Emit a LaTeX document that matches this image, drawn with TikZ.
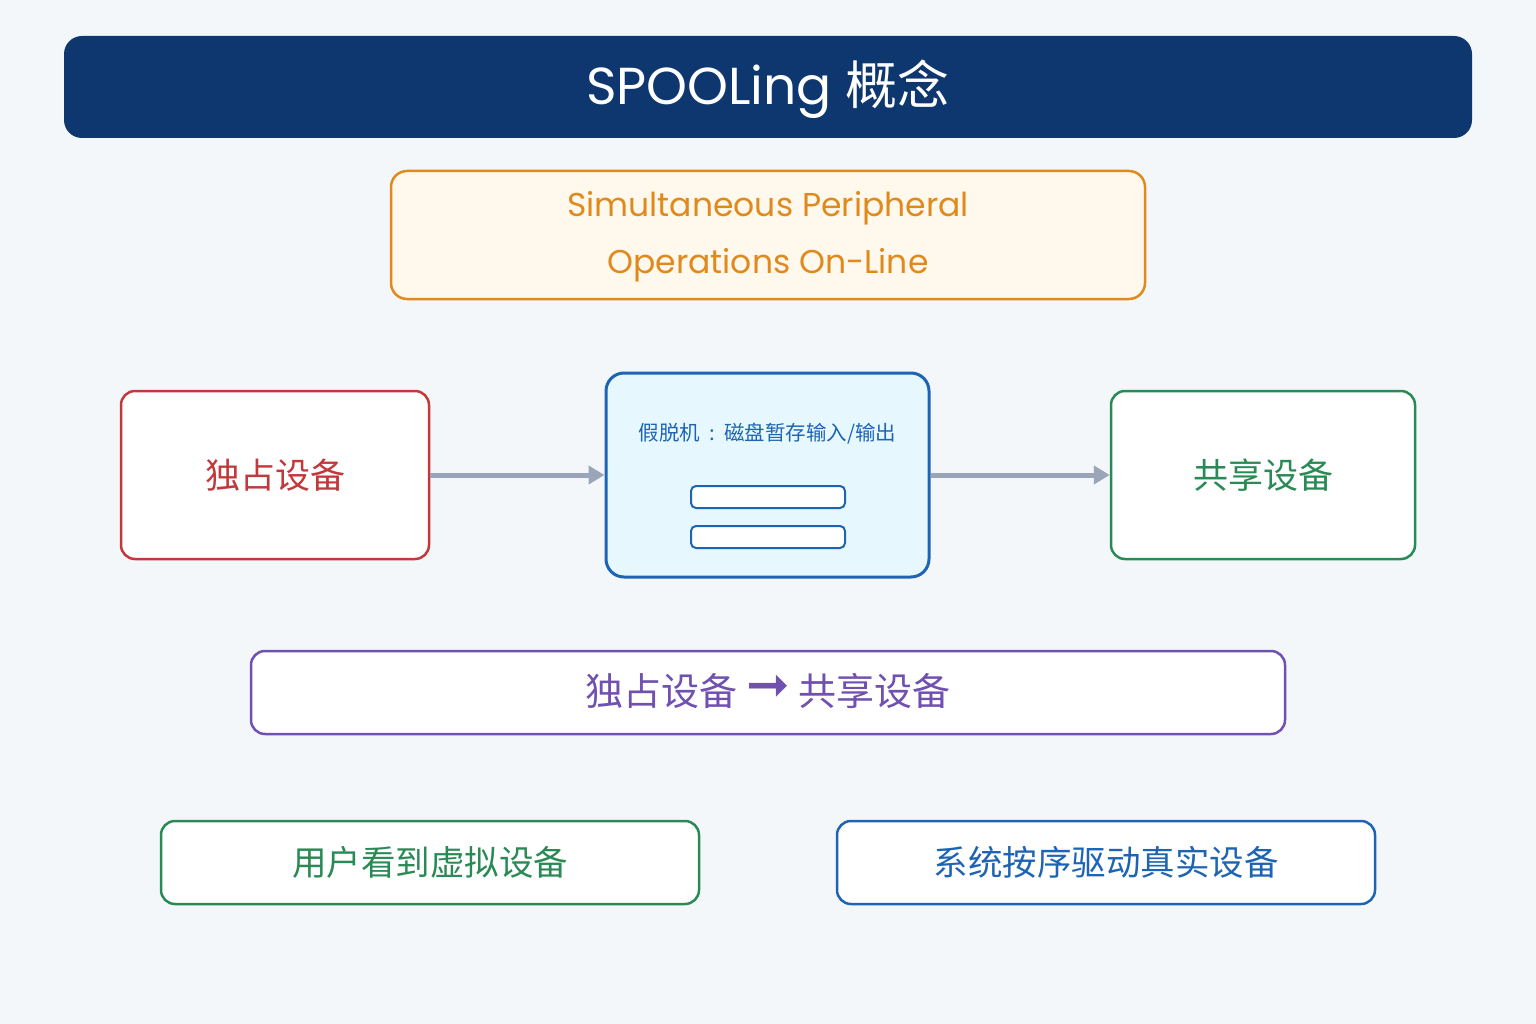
\documentclass[tikz,border=0pt]{standalone}
\usepackage{fontspec}
\setmainfont{Poppins}
\newfontfamily\cjk{Noto Sans CJK SC}
\newfontfamily\lat{Poppins}
\newfontfamily\sym{DejaVu Sans}
\usetikzlibrary{arrows.meta}
\definecolor{bg}{HTML}{F3F7FA}
\definecolor{navy}{HTML}{0D376E}
\definecolor{orng}{HTML}{E08A1E}
\definecolor{orfill}{HTML}{FFF8EC}
\definecolor{redc}{HTML}{C0393B}
\definecolor{bluec}{HTML}{1E64B4}
\definecolor{cyanfill}{HTML}{E6F8FD}
\definecolor{greenc}{HTML}{2A8A55}
\definecolor{purp}{HTML}{7050B0}
\definecolor{arrowgray}{HTML}{9AA5B8}
\begin{document}
\begin{tikzpicture}[x=1pt,y=-1pt,
  box/.style={rounded corners=14pt, line width=2.5pt, fill=white},
  conn/.style={draw=arrowgray, line width=5pt, -{Triangle[length=16pt,width=18pt]}}]
\useasboundingbox[fill=bg] (0,0) rectangle (1536,1024);
% title
\node[fill=navy, rounded corners=18pt, minimum width=1408pt, minimum height=102pt, inner sep=0pt] (title) at (768,87) {};
\node[text=white, font=\fontsize{52}{60}\selectfont] (titletext) at (768,89) {\lat SPOOLing \cjk 概念};
% orange
\node[box, draw=orng, fill=orfill, rounded corners=16pt, minimum width=754pt, minimum height=128pt, inner sep=0pt] (full) at (768,235) {};
\node[text=orng, font=\fontsize{33}{57}\selectfont, align=center] (fulltext) at (768,237) {Simultaneous Peripheral\\Operations On-Line};
% red
\node[box, draw=redc, minimum width=308pt, minimum height=168pt, inner sep=0pt] (excl) at (275,475) {};
\node[text=redc, font=\cjk\fontsize{35}{40}\selectfont] (excltext) at (275,475) {独占设备};
% center
\node[box, draw=bluec, fill=cyanfill, line width=3pt, rounded corners=18pt, minimum width=323pt, minimum height=204pt, inner sep=0pt] (spool) at (767.5,475) {};
\node[text=bluec, font=\cjk\fontsize{20.5}{24}\selectfont] (spooltext) at (767.5,434) {假脱机\makebox[24pt]{:}磁盘暂存输入/输出};
\node[draw=bluec, fill=white, line width=2pt, rounded corners=5pt, minimum width=154pt, minimum height=22pt, inner sep=0pt] (bar1) at (768,497) {};
\node[draw=bluec, fill=white, line width=2pt, rounded corners=5pt, minimum width=154pt, minimum height=22pt, inner sep=0pt] (bar2) at (768,537) {};
% green
\node[box, draw=greenc, minimum width=304pt, minimum height=168pt, inner sep=0pt] (shared) at (1263,475) {};
\node[text=greenc, font=\cjk\fontsize{35}{40}\selectfont] (sharedtext) at (1263,475) {共享设备};
% arrows
\draw[conn] (excl.east) -- (spool.west);
\draw[conn] (spool.east) -- (shared.west);
% purple
\node[box, draw=purp, minimum width=1034pt, minimum height=83pt, inner sep=0pt] (conv) at (768,692.5) {};
\node[text=purp, font=\cjk\fontsize{38}{44}\selectfont] (convtext) at (768,691) {独占设备 \raisebox{3pt}{\sym\fontsize{52}{56}\selectfont ➞} 共享设备};
% bottom
\node[box, draw=greenc, minimum width=538pt, minimum height=83pt, inner sep=0pt] (user) at (430,862.5) {};
\node[text=greenc, font=\cjk\fontsize{34.5}{40}\selectfont] (usertext) at (430,862) {用户看到虚拟设备};
\node[box, draw=bluec, minimum width=538pt, minimum height=83pt, inner sep=0pt] (sys) at (1106,862.5) {};
\node[text=bluec, font=\cjk\fontsize{34.5}{40}\selectfont] (systext) at (1106,862) {系统按序驱动真实设备};
\end{tikzpicture}
\end{document}
